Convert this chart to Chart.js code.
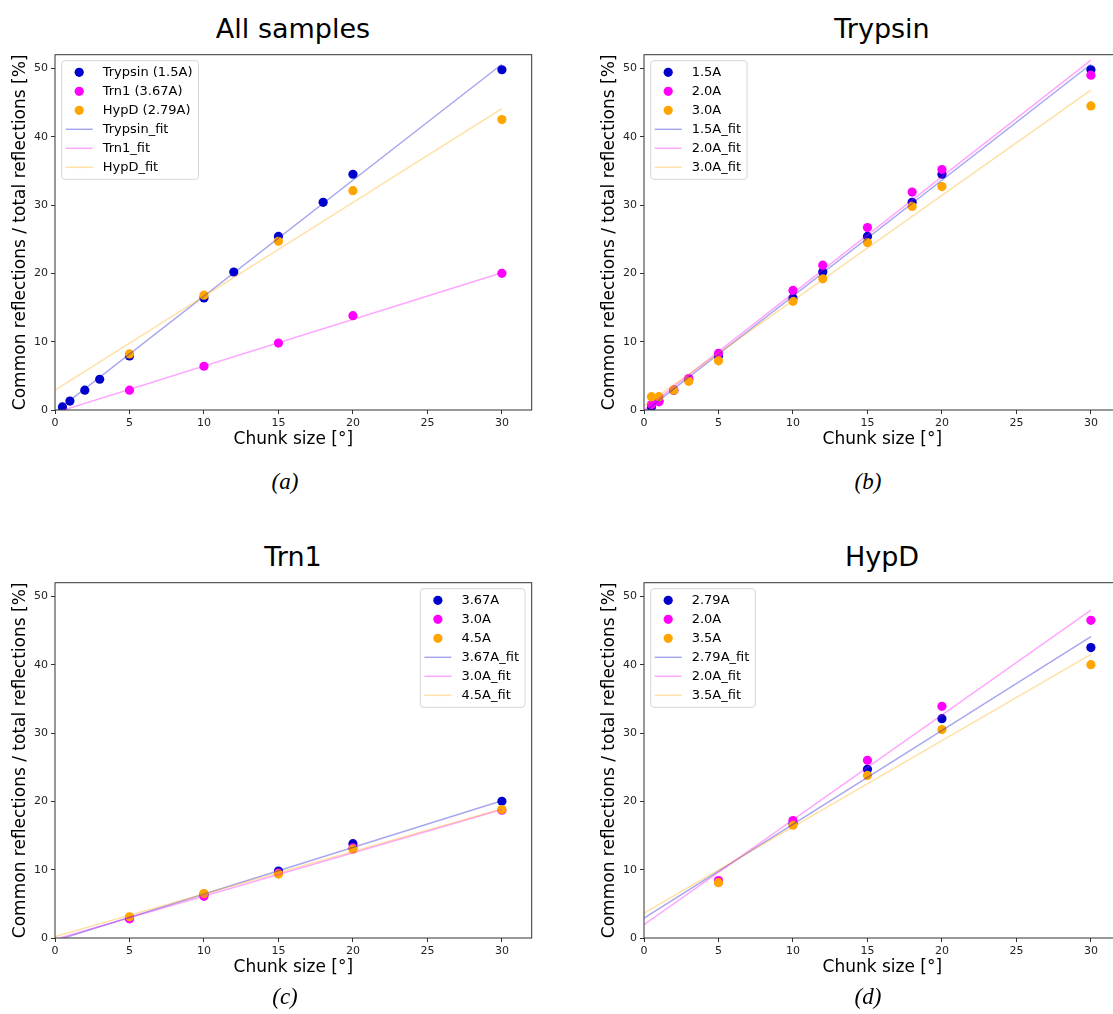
<!DOCTYPE html>
<html>
<head>
<meta charset="utf-8">
<script src="https://cdn.jsdelivr.net/npm/chart.js@4.4.0/dist/chart.umd.min.js"></script>
<style>
  html, body { margin: 0; padding: 0; background: #fff; overflow: hidden; }
  body { width: 1113px; height: 1014px; position: relative; }
  canvas { position: absolute; }
  .title { position: absolute; font-family: "DejaVu Sans", sans-serif; font-size: 27px; line-height: 1; color: #000; white-space: nowrap; transform: translate(-50%, -50%); }
  .caption { position: absolute; font-family: "Liberation Serif", serif; font-style: italic; font-size: 23px; line-height: 1; color: #000; transform: translate(-50%, -50%); }
</style>
</head>
<body>
<div class="title" style="left:293px; top:28px;">All samples</div>
<div class="title" style="left:882px; top:28px;">Trypsin</div>
<div class="title" style="left:293px; top:556px;">Trn1</div>
<div class="title" style="left:882px; top:556px;">HypD</div>

<canvas id="chartA" width="556" height="420" style="left:0px; top:44px;"></canvas>
<canvas id="chartB" width="556" height="420" style="left:589px; top:44px;"></canvas>
<canvas id="chartC" width="556" height="420" style="left:0px; top:572px;"></canvas>
<canvas id="chartD" width="556" height="420" style="left:589px; top:572px;"></canvas>

<div class="caption" style="left:285px; top:481px;">(a)</div>
<div class="caption" style="left:868px; top:481px;">(b)</div>
<div class="caption" style="left:285px; top:996px;">(c)</div>
<div class="caption" style="left:868px; top:996px;">(d)</div>

<script>
// chunk sizes [deg]
const chunksTrypsin = [0.5, 1, 2, 3, 5, 10, 12, 15, 18, 20, 30];
const chunksOther = [5, 10, 15, 20, 30];
const fitX = [0, 30];

// Trypsin
const trypsin15 = [0.45, 1.3, 2.9, 4.5, 7.9, 16.4, 20.2, 25.4, 30.4, 34.5, 49.8];
const trypsin20 = [0.8, 1.2, 2.9, 4.6, 8.3, 17.5, 21.2, 26.7, 31.9, 35.2, 49.0];
const trypsin30 = [1.95, 1.95, 2.9, 4.2, 7.2, 15.9, 19.2, 24.5, 29.8, 32.7, 44.5];
const trypsin15Fit = [-0.3, 50.6];
const trypsin20Fit = [0.0, 51.2];
const trypsin30Fit = [0.6, 46.8];

// Trn1
const trn1_367 = [2.9, 6.4, 9.8, 13.8, 20.0];
const trn1_30 = [2.8, 6.1, 9.5, 13.2, 18.7];
const trn1_45 = [3.1, 6.5, 9.35, 13.0, 18.8];
const trn1_367Fit = [-0.4, 20.1];
const trn1_30Fit = [-0.2, 18.8];
const trn1_45Fit = [0.2, 18.9];

// HypD
const hypd279 = [8.2, 16.8, 24.7, 32.1, 42.5];
const hypd20 = [8.4, 17.2, 26.0, 33.9, 46.5];
const hypd35 = [8.1, 16.5, 23.8, 30.5, 40.0];
const hypd279Fit = [2.9, 44.1];
const hypd20Fit = [1.95, 48.0];
const hypd35Fit = [3.65, 41.5];

const xTicks = { min: 0, max: 32, step: 5 };
const yTicks = { min: 0, max: 52, step: 10 };

const colors = ['#0000cd', '#ff00ff', '#ffa500'];
const fitColors = ['rgba(0,0,205,0.35)', 'rgba(255,0,255,0.35)', 'rgba(255,165,0,0.35)'];

function toPoints(xs, ys) {
  return xs.map((x, i) => ({ x: x, y: ys[i] }));
}

function scatterSet(label, xs, ys, idx) {
  return {
    label: label,
    data: toPoints(xs, ys),
    backgroundColor: colors[idx],
    borderWidth: 0,
    pointRadius: 4.6,
    pointHoverRadius: 4.6,
    order: 6 - idx
  };
}

function fitSet(label, ys, idx) {
  return {
    label: label,
    data: toPoints(fitX, ys),
    showLine: true,
    borderColor: fitColors[idx],
    borderWidth: 1.5,
    pointRadius: 0,
    order: 3 - idx
  };
}

// axes box (all four spines)
const framePlugin = {
  id: 'frame',
  afterDatasetsDraw(chart) {
    const a = chart.chartArea;
    const ctx = chart.ctx;
    ctx.save();
    ctx.strokeStyle = '#333';
    ctx.lineWidth = 1;
    ctx.strokeRect(a.left, a.top, a.right - a.left, a.bottom - a.top);
    ctx.restore();
  }
};

// matplotlib-like legend inside the axes
const boxLegend = {
  id: 'boxLegend',
  afterDraw(chart, args, opts) {
    const ctx = chart.ctx;
    const area = chart.chartArea;
    const items = chart.data.datasets;
    ctx.save();
    ctx.font = '13px "DejaVu Sans"';
    let textW = 0;
    items.forEach(d => { textW = Math.max(textW, ctx.measureText(d.label).width); });
    const rowH = 19;
    const w = 4 + 27 + 10 + textW + 6;
    const h = 11.6 + (items.length - 1) * rowH + 12;
    const left = opts.side === 'right' ? area.right - 6.7 - w : area.left + 6.7;
    const top = area.top + 6;

    ctx.beginPath();
    const r = 3;
    ctx.moveTo(left + r, top);
    ctx.lineTo(left + w - r, top);
    ctx.arcTo(left + w, top, left + w, top + r, r);
    ctx.lineTo(left + w, top + h - r);
    ctx.arcTo(left + w, top + h, left + w - r, top + h, r);
    ctx.lineTo(left + r, top + h);
    ctx.arcTo(left, top + h, left, top + h - r, r);
    ctx.lineTo(left, top + r);
    ctx.arcTo(left, top, left + r, top, r);
    ctx.closePath();
    ctx.fillStyle = 'rgba(255,255,255,0.8)';
    ctx.fill();
    ctx.strokeStyle = '#d6d6d6';
    ctx.lineWidth = 1;
    ctx.stroke();

    items.forEach((d, i) => {
      const y = top + 11.6 + i * rowH;
      const hx = left + 4;
      if (d.showLine) {
        ctx.beginPath();
        ctx.moveTo(hx, y);
        ctx.lineTo(hx + 27, y);
        ctx.strokeStyle = d.borderColor;
        ctx.lineWidth = 1.5;
        ctx.stroke();
      } else {
        ctx.beginPath();
        ctx.arc(hx + 13.5, y, 4.6, 0, Math.PI * 2);
        ctx.fillStyle = d.backgroundColor;
        ctx.fill();
      }
      ctx.fillStyle = '#000';
      ctx.textBaseline = 'middle';
      ctx.textAlign = 'left';
      ctx.fillText(d.label, hx + 27 + 10, y + 0.5);
    });
    ctx.restore();
  }
};

function makePanel(id, datasets, side) {
  new Chart(document.getElementById(id), {
    type: 'scatter',
    data: { datasets: datasets },
    plugins: [framePlugin, boxLegend],
    options: {
      responsive: false,
      animation: false,
      events: [],
      layout: { padding: { left: 0, top: 10.7, right: 24.3, bottom: 0 } },
      plugins: {
        legend: { display: false },
        tooltip: { enabled: false },
        boxLegend: { side: side }
      },
      scales: {
        x: {
          type: 'linear',
          min: xTicks.min,
          max: xTicks.max,
          afterFit: (scale) => { scale.height = 54; },
          ticks: {
            stepSize: xTicks.step,
            includeBounds: false,
            padding: 3,
            color: '#222',
            font: { family: 'DejaVu Sans', size: 11 }
          },
          grid: { drawOnChartArea: false, drawTicks: true, tickLength: 4, tickColor: '#333', color: '#333' },
          border: { display: false },
          title: {
            display: true,
            text: 'Chunk size [°]',
            color: '#000',
            font: { family: 'DejaVu Sans', size: 17 },
            padding: { top: 0, bottom: 14 }
          }
        },
        y: {
          type: 'linear',
          min: yTicks.min,
          max: yTicks.max,
          afterFit: (scale) => { scale.width = 55; },
          ticks: {
            stepSize: yTicks.step,
            includeBounds: false,
            padding: 3,
            color: '#222',
            font: { family: 'DejaVu Sans', size: 11 }
          },
          grid: { drawOnChartArea: false, drawTicks: true, tickLength: 4, tickColor: '#333', color: '#333' },
          border: { display: false },
          title: {
            display: true,
            text: 'Common reflections / total reflections [%]',
            color: '#000',
            font: { family: 'DejaVu Sans', size: 17 },
            padding: { top: 10, bottom: 0 }
          }
        }
      }
    }
  });
}

makePanel('chartA', [
  scatterSet('Trypsin (1.5A)', chunksTrypsin, trypsin15, 0),
  scatterSet('Trn1 (3.67A)', chunksOther, trn1_367, 1),
  scatterSet('HypD (2.79A)', chunksOther, hypd279, 2),
  fitSet('Trypsin_fit', trypsin15Fit, 0),
  fitSet('Trn1_fit', trn1_367Fit, 1),
  fitSet('HypD_fit', hypd279Fit, 2)
], 'left');

makePanel('chartB', [
  scatterSet('1.5A', chunksTrypsin, trypsin15, 0),
  scatterSet('2.0A', chunksTrypsin, trypsin20, 1),
  scatterSet('3.0A', chunksTrypsin, trypsin30, 2),
  fitSet('1.5A_fit', trypsin15Fit, 0),
  fitSet('2.0A_fit', trypsin20Fit, 1),
  fitSet('3.0A_fit', trypsin30Fit, 2)
], 'left');

makePanel('chartC', [
  scatterSet('3.67A', chunksOther, trn1_367, 0),
  scatterSet('3.0A', chunksOther, trn1_30, 1),
  scatterSet('4.5A', chunksOther, trn1_45, 2),
  fitSet('3.67A_fit', trn1_367Fit, 0),
  fitSet('3.0A_fit', trn1_30Fit, 1),
  fitSet('4.5A_fit', trn1_45Fit, 2)
], 'right');

makePanel('chartD', [
  scatterSet('2.79A', chunksOther, hypd279, 0),
  scatterSet('2.0A', chunksOther, hypd20, 1),
  scatterSet('3.5A', chunksOther, hypd35, 2),
  fitSet('2.79A_fit', hypd279Fit, 0),
  fitSet('2.0A_fit', hypd20Fit, 1),
  fitSet('3.5A_fit', hypd35Fit, 2)
], 'left');
</script>
</body>
</html>
